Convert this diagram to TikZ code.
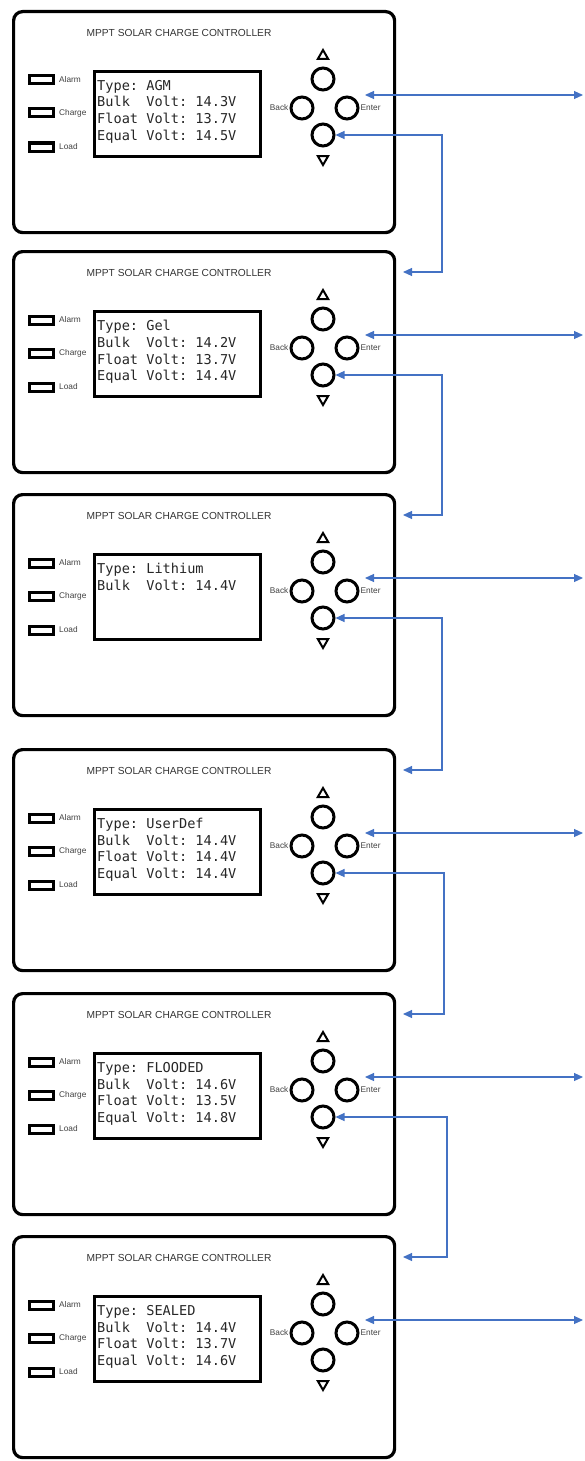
\documentclass[tikz,border=0pt]{standalone}
\usepackage{fontspec}
\setmainfont{Liberation Sans}
\newfontfamily\lcdfont{DejaVu Sans Mono}
\usepackage{xcolor}
\usetikzlibrary{positioning,calc,arrows.meta,shapes.geometric}
\definecolor{linkblue}{HTML}{4472C4}

\tikzset{
  panel/.style={draw, line width=3.2pt, rounded corners=9pt, minimum width=381pt, minimum height=221pt, anchor=north west, inner sep=0pt},
  lcd/.style={draw, line width=3.2pt, minimum width=166pt, minimum height=85pt, anchor=north west, inner sep=0pt},
  lcdtext/.style={font=\lcdfont\fontsize{13.6}{16.7}\selectfont\frenchspacing, text=black!85, align=left, anchor=north west, inner sep=0pt},
  title/.style={font=\fontsize{10.2}{12}\selectfont, text=black!80},
  led/.style={draw, line width=3pt, minimum width=24pt, minimum height=8pt, inner sep=0pt},
  tiny/.style={font=\fontsize{8.3}{9}\selectfont, text=black!75, inner sep=1pt},
  key/.style={circle, draw, line width=3pt, minimum size=22pt, inner sep=0pt},
  keytri/.style={regular polygon, regular polygon sides=3, draw, line width=2pt, minimum size=12pt, inner sep=0pt},
  link/.style={draw=linkblue, line width=1.1pt, {Triangle[length=9pt,width=8pt]}-{Triangle[length=9pt,width=8pt]}}
}

% one controller: name, top edge, display text
\newcommand{\mpptpanel}[3]{
  \node[panel] (#1) at (12,#2) {};
  \node[title] (#1-title) at (179,#2+23) {MPPT SOLAR CHARGE CONTROLLER};
  % leds
  \node[led] (#1-alarm) at (41.5,#2+70) {};
  \node[led] (#1-charge) at (41.5,#2+103) {};
  \node[led] (#1-load) at (41.5,#2+137) {};
  \node[tiny, anchor=west] (#1-alarmlbl) at (58,#2+70) {Alarm};
  \node[tiny, anchor=west] (#1-chargelbl) at (58,#2+103) {Charge};
  \node[tiny, anchor=west] (#1-loadlbl) at (58,#2+137) {Load};
  % display
  \node[lcd] (#1-lcd) at (93,#2+60) {};
  \node[lcdtext] (#1-text) at (97,#2+70) {#3};
  % keys
  \node[key] (#1-up) at (323,#2+69) {};
  \node[key] (#1-back) at (302,#2+98) {};
  \node[key] (#1-enter) at (347,#2+98) {};
  \node[key] (#1-down) at (323,#2+125) {};
  \node[keytri] (#1-uptri) at (323,#2+46) {};
  \node[keytri, shape border rotate=180] (#1-downtri) at (323,#2+149) {};
  \node[tiny, anchor=east] (#1-backlbl) at (#1-back.west) {Back};
  \node[tiny, anchor=west] (#1-enterlbl) at (#1-enter.east) {Enter};
  % link points
  \coordinate (#1-in) at (365,#2+85);
  \coordinate (#1-out) at (583,#2+85);
  \coordinate (#1-next) at (403,#2+22);
}

\begin{document}
\begin{tikzpicture}[x=1pt, y=-1pt]
    \useasboundingbox (0,0) rectangle (584,1461);

    % AGM
    \mpptpanel{p1}{10}{Type: AGM\\Bulk\ \ Volt: 14.3V\\Float Volt: 13.7V\\Equal Volt: 14.5V}
    % Gel
    \mpptpanel{p2}{250}{Type: Gel\\Bulk\ \ Volt: 14.2V\\Float Volt: 13.7V\\Equal Volt: 14.4V}
    % Lithium
    \mpptpanel{p3}{493}{Type: Lithium\\Bulk\ \ Volt: 14.4V}
    % UserDef
    \mpptpanel{p4}{748}{Type: UserDef\\Bulk\ \ Volt: 14.4V\\Float Volt: 14.4V\\Equal Volt: 14.4V}
    % Flooded
    \mpptpanel{p5}{992}{Type: FLOODED\\Bulk\ \ Volt: 14.6V\\Float Volt: 13.5V\\Equal Volt: 14.8V}
    % Sealed
    \mpptpanel{p6}{1235}{Type: SEALED\\Bulk\ \ Volt: 14.4V\\Float Volt: 13.7V\\Equal Volt: 14.6V}

    % Enter links
    \draw[link] (p1-in) -- (p1-out);
    \draw[link] (p2-in) -- (p2-out);
    \draw[link] (p3-in) -- (p3-out);
    \draw[link] (p4-in) -- (p4-out);
    \draw[link] (p5-in) -- (p5-out);
    \draw[link] (p6-in) -- (p6-out);

    % Down links
    \draw[link] (p1-down.east) -| ($(p2-next)+(39,0)$) -- (p2-next);
    \draw[link] (p2-down.east) -| ($(p3-next)+(39,0)$) -- (p3-next);
    \draw[link] (p3-down.east) -| ($(p4-next)+(39,0)$) -- (p4-next);
    \draw[link] (p4-down.east) -| ($(p5-next)+(41,0)$) -- (p5-next);
    \draw[link] (p5-down.east) -| ($(p6-next)+(44,0)$) -- (p6-next);
\end{tikzpicture}
\end{document}
